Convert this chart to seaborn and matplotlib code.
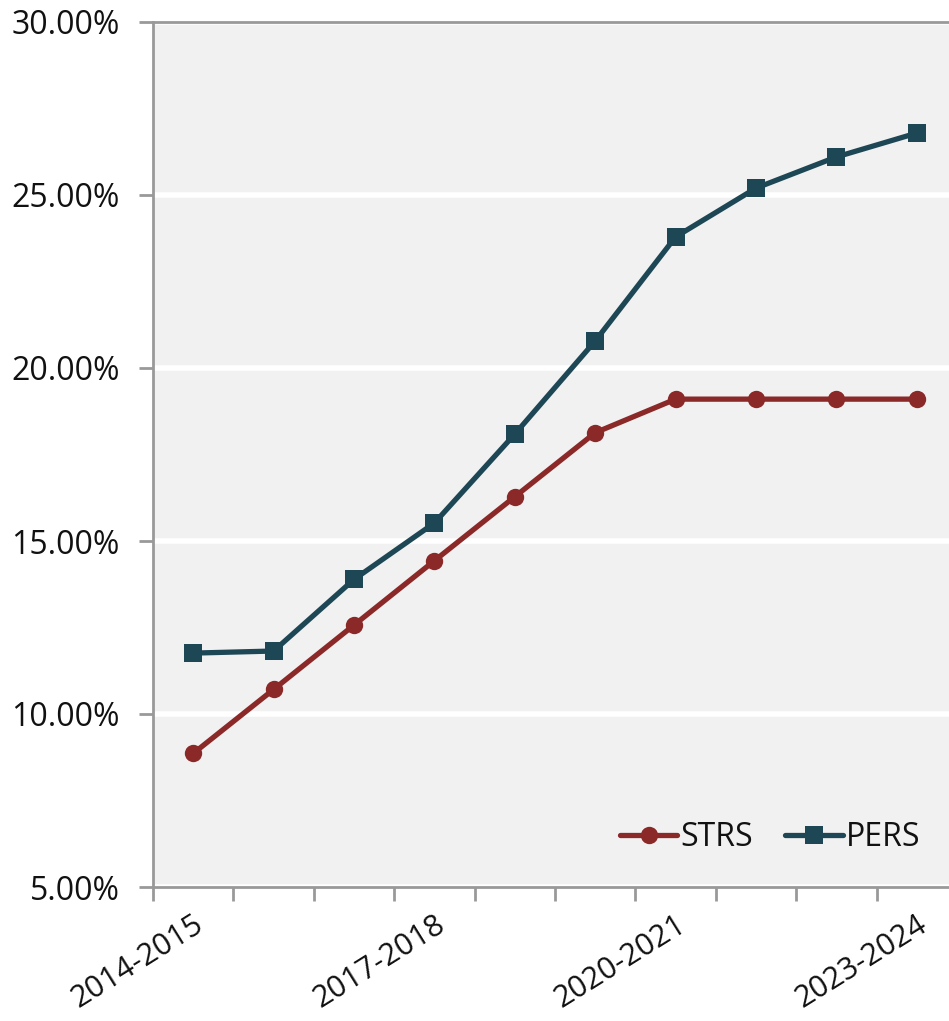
import pandas as pd
import numpy as np
import seaborn as sns
import matplotlib.pyplot as plt
from matplotlib.ticker import PercentFormatter

years = ["2014-2015", "2015-2016", "2016-2017", "2017-2018", "2018-2019",
         "2019-2020", "2020-2021", "2021-2022", "2022-2023", "2023-2024"]
strs = [8.86, 10.71, 12.57, 14.43, 16.28, 18.13, 19.10, 19.10, 19.10, 19.10]
pers = [11.76, 11.82, 13.89, 15.52, 18.09, 20.78, 23.79, 25.20, 26.10, 26.79]

df = pd.DataFrame({
    "year": years * 2,
    "rate": strs + pers,
    "plan": ["STRS"] * len(years) + ["PERS"] * len(years),
})
df["x"] = np.tile(np.arange(len(years)), 2)

sns.set_style("white")
plt.rcParams["font.family"] = ["Open Sans", "DejaVu Sans"]
plt.rcParams["text.color"] = "#111111"
plt.rcParams["xtick.color"] = "#111111"
plt.rcParams["ytick.color"] = "#111111"

fig = plt.figure(figsize=(9.49, 10.21), dpi=100)
W, H = 949, 1021
ax = fig.add_axes([153 / W, (H - 887) / H, 804 / W, 865 / H])
ax.set_facecolor("#f1f1f1")

palette = {"STRS": "#8b2828", "PERS": "#1e4756"}
sns.lineplot(data=df, x="x", y="rate", hue="plan", style="plan",
             markers={"STRS": "o", "PERS": "s"}, dashes=False,
             palette=palette, linewidth=3.8, markersize=12.5,
             markeredgewidth=0, ax=ax)

ax.set_xlim(-0.5, len(years) - 0.5)
ax.set_ylim(5, 30)
ax.set_yticks([5, 10, 15, 20, 25, 30])
ax.yaxis.set_major_formatter(PercentFormatter(decimals=2))
ax.grid(axis="y", color="white", linewidth=4)
ax.set_axisbelow(True)

ax.set_xticks([0, 3, 6, 9])
ax.set_xticklabels([years[i] for i in [0, 3, 6, 9]], rotation=32,
                   ha="right", rotation_mode="anchor")
ax.set_xticks(np.arange(-0.5, len(years)), minor=True)
ax.tick_params(axis="x", which="major", bottom=False, length=0, pad=16, labelsize=22)
ax.tick_params(axis="x", which="minor", bottom=True, length=10, width=2, color="#999999")
ax.tick_params(axis="y", left=True, length=10, width=2, color="#999999",
               labelsize=23, pad=14)

for s in ["left", "bottom", "top"]:
    ax.spines[s].set_color("#999999")
    ax.spines[s].set_linewidth(2)
ax.spines["right"].set_visible(False)

ax.set_xlabel("")
ax.set_ylabel("")
ax.legend(title=None, frameon=False, ncol=2, fontsize=23, loc="lower right",
          bbox_to_anchor=(0.99, 0.005), handlelength=1.8, handletextpad=0.1,
          columnspacing=1.0)

fig.savefig("out.png", dpi=100)
